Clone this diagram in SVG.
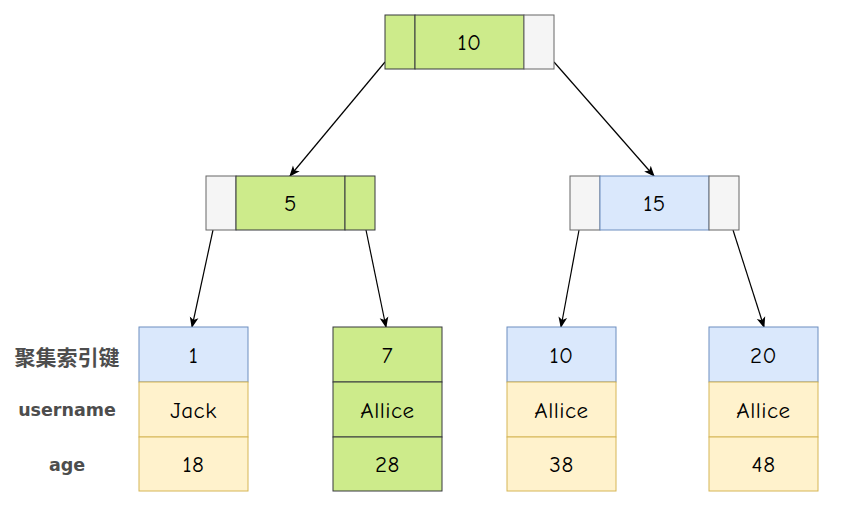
<svg xmlns="http://www.w3.org/2000/svg" width="843" height="509" viewBox="0 0 843 509">
<defs>
<marker id="ah" viewBox="0 0 10 10" refX="9" refY="5" markerWidth="11" markerHeight="11" markerUnits="userSpaceOnUse" orient="auto">
<path d="M0,1 L10,5 L0,9 L2.5,5 Z" fill="#000"/>
</marker>
<style>
.g{fill:#cdeb8b;stroke:#36393d;stroke-width:1}
.s{fill:#f5f5f5;stroke:#666666;stroke-width:1}
.b{fill:#dae8fc;stroke:#6c8ebf;stroke-width:1}
.y{fill:#fff2cc;stroke:#d6b656;stroke-width:1}
.t{font-family:"Comic Neue","Liberation Sans",sans-serif;font-size:23px;letter-spacing:0.5px;fill:#000;text-anchor:middle;dominant-baseline:central}
.l{font-family:"DejaVu Sans","Noto Sans CJK SC",sans-serif;font-size:17.5px;font-weight:bold;fill:#4d4d4d;text-anchor:middle;dominant-baseline:central}
.cjk{font-family:"Noto Sans CJK SC",sans-serif;font-size:21px}
.c{stroke:#000;stroke-width:1.2;fill:none;marker-end:url(#ah)}
</style>
</defs>
<g id="connectors">
<line class="c" x1="385" y1="62" x2="290" y2="176"/>
<line class="c" x1="554" y1="62" x2="654" y2="176"/>
<line class="c" x1="213" y1="230" x2="192" y2="327"/>
<line class="c" x1="366" y1="230" x2="386" y2="327"/>
<line class="c" x1="579" y1="230" x2="561" y2="327"/>
<line class="c" x1="733" y1="230" x2="764" y2="327"/>
</g>
<g id="root">
<rect class="g" x="385" y="15" width="30" height="54"/>
<rect class="g" x="415" y="15" width="109" height="54"/>
<rect class="s" x="524" y="15" width="30" height="54"/>
<text class="t" x="469.5" y="42">10</text>
</g>
<g id="node5">
<rect class="s" x="206" y="176" width="30" height="54"/>
<rect class="g" x="236" y="176" width="109" height="54"/>
<rect class="g" x="345" y="176" width="30" height="54"/>
<text class="t" x="290.5" y="203">5</text>
</g>
<g id="node15">
<rect class="s" x="570" y="176" width="30" height="54"/>
<rect class="b" x="600" y="176" width="109" height="54"/>
<rect class="s" x="709" y="176" width="30" height="54"/>
<text class="t" x="654.5" y="203">15</text>
</g>
<g id="labels">
<text class="l cjk" x="67" y="356">聚集索引键</text>
<text class="l" x="67" y="410">username</text>
<text class="l" x="67" y="465">age</text>
</g>
<g id="leaf1">
<rect class="b" x="139" y="327" width="109" height="55"/>
<rect class="y" x="139" y="382" width="109" height="55"/>
<rect class="y" x="139" y="437" width="109" height="54"/>
<text class="t" x="193.5" y="355">1</text>
<text class="t" x="193.5" y="410">Jack</text>
<text class="t" x="193.5" y="464">18</text>
</g>
<g id="leaf7">
<rect class="g" x="333" y="327" width="109" height="55"/>
<rect class="g" x="333" y="382" width="109" height="55"/>
<rect class="g" x="333" y="437" width="109" height="54"/>
<text class="t" x="387.5" y="355">7</text>
<text class="t" x="387.5" y="410">Allice</text>
<text class="t" x="387.5" y="464">28</text>
</g>
<g id="leaf10">
<rect class="b" x="507" y="327" width="109" height="55"/>
<rect class="y" x="507" y="382" width="109" height="55"/>
<rect class="y" x="507" y="437" width="109" height="54"/>
<text class="t" x="561.5" y="355">10</text>
<text class="t" x="561.5" y="410">Allice</text>
<text class="t" x="561.5" y="464">38</text>
</g>
<g id="leaf20">
<rect class="b" x="709" y="327" width="109" height="55"/>
<rect class="y" x="709" y="382" width="109" height="55"/>
<rect class="y" x="709" y="437" width="109" height="54"/>
<text class="t" x="763.5" y="355">20</text>
<text class="t" x="763.5" y="410">Allice</text>
<text class="t" x="763.5" y="464">48</text>
</g>
</svg>
